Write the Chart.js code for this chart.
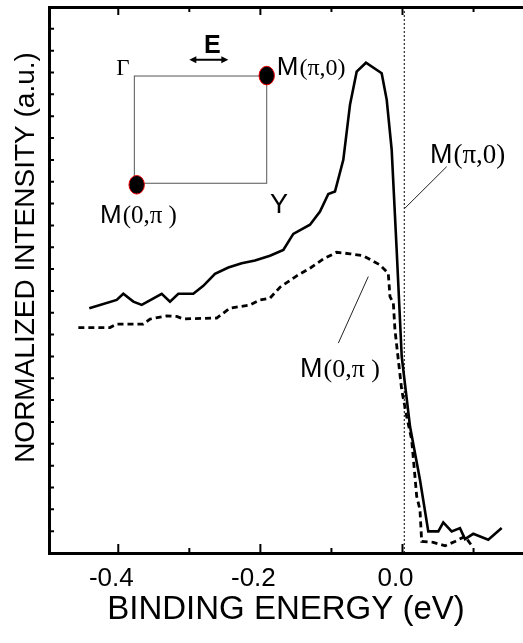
<!DOCTYPE html>
<html><head><meta charset="utf-8">
<script src="https://cdn.jsdelivr.net/npm/chart.js@4/dist/chart.umd.min.js"></script>
<style>html,body{margin:0;padding:0;background:#fff;}#c{display:block;}</style>
</head><body>
<canvas id="c" width="523" height="643"></canvas>
<script>
// ---- data ----
const energyPiZero = [-0.4408,-0.4022,-0.3929,-0.3788,-0.3670,-0.3389,-0.3272,-0.3155,-0.2944,-0.2803,-0.2639,-0.2451,-0.2263,-0.2076,-0.1865,-0.1677,-0.1537,-0.1302,-0.1161,-0.1044,-0.0950,-0.0833,-0.0739,-0.0645,-0.0514,-0.0293,-0.0222,-0.0152,-0.0082,-0.0011,0.0106,0.0246,0.0363,0.0504,0.0574,0.0692,0.0809,0.0880,0.0996,0.1207,0.1396];
const intensityPiZero = [11.21,11.59,11.87,11.51,11.36,11.87,11.51,11.87,11.87,12.23,12.78,13.07,13.27,13.39,13.61,13.88,14.61,15.03,15.63,16.44,16.55,18.00,20.52,22.04,22.45,21.97,20.75,18.46,13.88,9.00,5.79,3.35,0.99,0.99,1.40,0.99,1.14,0.64,0.88,0.61,1.14];
const energyZeroPi = [-0.4562,-0.4116,-0.4022,-0.3648,-0.3553,-0.3318,-0.3178,-0.3085,-0.2615,-0.2428,-0.2146,-0.2005,-0.1865,-0.1724,-0.1489,-0.1302,-0.1115,-0.0926,-0.0739,-0.0552,-0.0317,-0.0200,-0.0176,-0.0129,-0.0106,-0.0059,-0.0011,0.0059,0.0129,0.0200,0.0246,0.0270,0.0433,0.0598,0.0739,0.0880,0.0996];
const intensityZeroPi = [10.32,10.32,10.48,10.48,10.71,10.86,10.83,10.72,10.76,11.21,11.36,11.59,11.67,12.17,12.69,13.04,13.46,13.77,13.70,13.61,13.19,12.81,11.74,11.44,10.22,8.85,7.47,6.25,5.19,2.59,1.98,0.53,0.49,0.33,0.53,0.76,0.24];
const fermiEnergy = [0.0025, 0.0025];
const fermiLevel = [0, 25];
const xTickValues = [-0.4,-0.3,-0.2,-0.1,0.0,0.1];
const xTickLabels = ['-0.4','','-0.2','','0.0',''];
const yTickValues = [1,2,3,4,5,6,7,8,9,10,11,12,13,14,15,16,17,18,19,20,21,22,23,24];
const xTitle = 'BINDING ENERGY (eV)';
const yTitle = 'NORMALIZED INTENSITY (a.u.)';

const SANS = '"Liberation Sans", Arial, Helvetica, sans-serif';
const SERIF = '"Liberation Serif", "Times New Roman", serif';
Chart.defaults.font.family = SANS;
Chart.defaults.color = '#000';

const pts = (xs, ys) => xs.map((v, i) => ({x: v, y: ys[i]}));

function mLabel(ctx, x, y, mSize, rest, restSize) {
  ctx.textAlign = 'left'; ctx.textBaseline = 'alphabetic'; ctx.fillStyle = '#000';
  ctx.font = mSize + 'px ' + SANS;
  ctx.fillText('M', x, y);
  const w = ctx.measureText('M').width;
  ctx.font = restSize + 'px ' + SERIF;
  ctx.fillText(rest, x + w + 1, y);
}

const decor = {
  id: 'decor',
  afterDraw(chart) {
    const {ctx, chartArea: ca, scales: {x, y}} = chart;
    const X = v => x.getPixelForValue(v), Y = v => y.getPixelForValue(v);
    ctx.save();
    // inward tick marks
    ctx.strokeStyle = '#000'; ctx.lineWidth = 2;
    ctx.beginPath();
    xTickValues.forEach((v, i) => {
      const px = X(v), major = xTickLabels[i] !== '';
      ctx.moveTo(px, ca.bottom); ctx.lineTo(px, ca.bottom - (major ? 9 : 5));
      ctx.moveTo(px, ca.top); ctx.lineTo(px, ca.top + (major ? 8 : 5));
    });
    yTickValues.forEach(v => { const py = Y(v); ctx.moveTo(ca.left, py); ctx.lineTo(ca.left + 5, py); });
    ctx.stroke();

    // y-axis title
    ctx.save();
    ctx.translate(26, 257.5); ctx.rotate(-Math.PI / 2);
    ctx.font = '28px ' + SANS; ctx.textAlign = 'center'; ctx.textBaseline = 'middle'; ctx.fillStyle = '#000';
    ctx.fillText(yTitle, 0, 0);
    ctx.restore();

    // inset Brillouin zone
    ctx.strokeStyle = '#555'; ctx.lineWidth = 1;
    const rl = X(-0.3774), rr = X(-0.1911), rt = Y(21.84), rb = Y(16.93);
    ctx.strokeRect(rl, rt, rr - rl, rb - rt);
    const dot = (cx, cy) => {
      ctx.beginPath(); ctx.ellipse(cx, cy, 7.7, 9.3, 0, 0, Math.PI * 2);
      ctx.fillStyle = '#000'; ctx.fill(); ctx.strokeStyle = '#e00'; ctx.lineWidth = 1; ctx.stroke();
    };
    dot(X(-0.1911), Y(21.86));
    dot(X(-0.3741), Y(16.86));
    ctx.fillStyle = '#000';
    ctx.font = '23px ' + SERIF; ctx.textAlign = 'center'; ctx.textBaseline = 'alphabetic';
    ctx.fillText('\u0393', X(-0.3936), Y(21.89));
    ctx.font = 'bold 25px ' + SANS;
    ctx.fillText('E', X(-0.2677), Y(22.88));
    ctx.font = '27px ' + SANS;
    ctx.fillText('Y', X(-0.1738), Y(15.59));
    // polarization arrow
    const ax1 = X(-0.3000), ax2 = X(-0.2451), ay = Y(22.58);
    ctx.strokeStyle = '#000'; ctx.lineWidth = 2;
    ctx.beginPath(); ctx.moveTo(ax1 + 3, ay); ctx.lineTo(ax2 - 3, ay); ctx.stroke();
    ctx.beginPath();
    ctx.moveTo(ax1, ay); ctx.lineTo(ax1 + 7, ay - 3.5); ctx.lineTo(ax1 + 7, ay + 3.5); ctx.closePath();
    ctx.moveTo(ax2, ay); ctx.lineTo(ax2 - 7, ay - 3.5); ctx.lineTo(ax2 - 7, ay + 3.5); ctx.closePath();
    ctx.fill();
    mLabel(ctx, X(-0.1770), Y(21.89), 26, '(\u03c0,0)', 24);
    mLabel(ctx, X(-0.4257), Y(15.10), 26, '(0,\u03c0 )', 25);

    // curve labels with leader lines
    mLabel(ctx, X(0.0387), Y(17.85), 27, '(\u03c0,0)', 27);
    mLabel(ctx, X(-0.1442), Y(8.08), 27, '(0,\u03c0 )', 26);
    ctx.strokeStyle = '#222'; ctx.lineWidth = 1;
    ctx.beginPath();
    ctx.moveTo(X(0.0622), Y(17.69)); ctx.lineTo(X(0.0035), Y(15.79));
    ctx.moveTo(X(-0.0481), Y(12.66)); ctx.lineTo(X(-0.0903), Y(9.61));
    ctx.stroke();
    ctx.restore();
  }
};

new Chart(document.getElementById('c'), {
  type: 'line',
  data: {
    datasets: [
      {label: 'M(\u03c0,0)', data: pts(energyPiZero, intensityPiZero), borderColor: '#000', borderWidth: 2.6, pointRadius: 0, tension: 0, fill: false},
      {label: 'M(0,\u03c0)', data: pts(energyZeroPi, intensityZeroPi), borderColor: '#000', borderWidth: 2.8, borderDash: [6, 4], pointRadius: 0, tension: 0, fill: false},
      {label: 'E_F', data: pts(fermiEnergy, fermiLevel), borderColor: '#000', borderWidth: 1, borderDash: [2, 2], pointRadius: 0, fill: false}
    ]
  },
  options: {
    responsive: false, animation: false, devicePixelRatio: 1,
    layout: {padding: 0},
    plugins: {legend: {display: false}, tooltip: {enabled: false}},
    scales: {
      x: {
        type: 'linear', position: 'bottom', min: -0.4975, max: 0.1696,
        grid: {display: false, drawTicks: false},
        border: {display: true, width: 3, color: '#000'},
        afterBuildTicks: s => { s.ticks = xTickValues.map(v => ({value: v})); },
        ticks: {
          autoSkip: false, maxRotation: 0, padding: 10, labelOffset: -7,
          font: {size: 26}, color: '#000',
          callback: v => { const i = xTickValues.findIndex(t => Math.abs(t - v) < 1e-6); return i >= 0 ? xTickLabels[i] : ''; }
        },
        title: {display: true, text: xTitle, font: {size: 33}, color: '#000', padding: {top: 0, bottom: 13}},
        afterFit: s => { s.height = 90; }
      },
      x2: {
        type: 'linear', position: 'top', min: -0.4975, max: 0.1696,
        grid: {display: false, drawTicks: false},
        border: {display: true, width: 3, color: '#000'},
        ticks: {display: false},
        afterFit: s => { s.height = 7; }
      },
      y: {
        type: 'linear', position: 'left', min: 0, max: 25,
        grid: {display: false, drawTicks: false},
        border: {display: true, width: 3, color: '#000'},
        ticks: {display: false},
        afterFit: s => { s.width = 49; }
      }
    }
  },
  plugins: [decor]
});
</script>
</body></html>
